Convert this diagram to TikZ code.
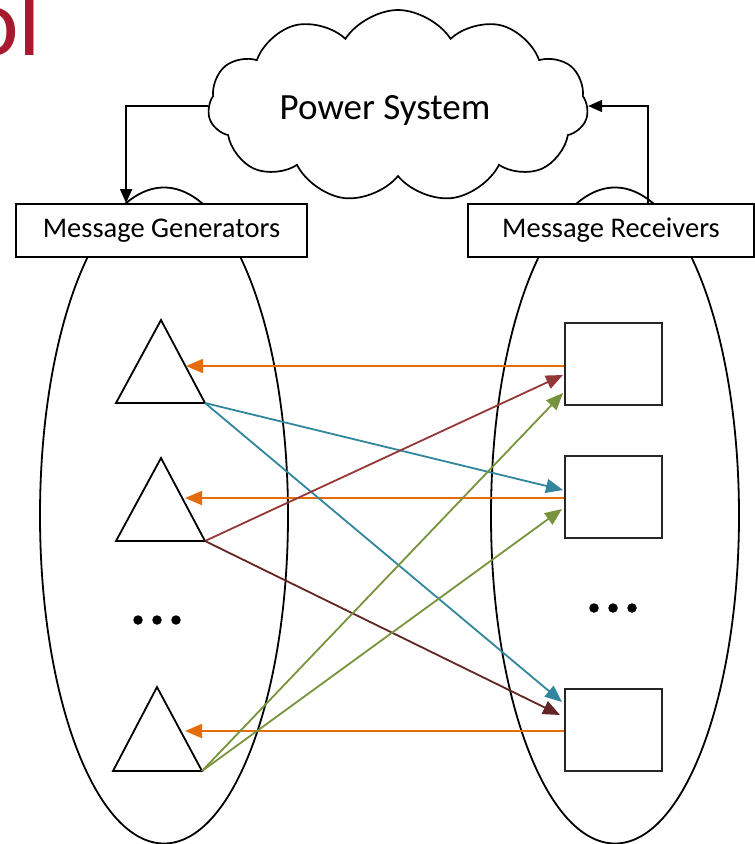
\documentclass[tikz,border=0pt]{standalone}
\usepackage{fontspec}
\setmainfont{Carlito}
\usetikzlibrary{shapes.symbols,shapes.geometric,arrows.meta}
\definecolor{crimsonT}{HTML}{A6192E}
\definecolor{arrOrange}{HTML}{E46C0A}
\definecolor{arrBlue}{HTML}{31859C}
\definecolor{arrRed}{HTML}{953735}
\definecolor{arrDark}{HTML}{632523}
\definecolor{arrGreen}{HTML}{77933C}
\begin{document}
\begin{tikzpicture}[x=1pt,y=-1pt,
  shapeline/.style={draw=black,line width=1.8pt},
  setell/.style={ellipse,draw=black,line width=1.8pt,inner sep=0pt,minimum width=248pt,minimum height=656pt},
  labbox/.style={draw=black,line width=1.8pt,fill=white,inner sep=0pt,minimum height=53pt,font=\fontsize{28.5}{30}\selectfont},
  sqbox/.style={draw=black!85,line width=2pt,inner sep=0pt,minimum width=97pt,minimum height=82pt},
  conn/.style={line width=1.7pt,-{Triangle[length=14pt,width=12pt]}},
  feed/.style={line width=1.8pt,-{Triangle[length=17pt,width=14pt]}},
  dotmark/.style={circle,fill=black,inner sep=0pt,minimum size=9.5pt}]
\useasboundingbox (0,0) rectangle (755,844);
\begin{scope}
\clip (0,0) rectangle (755,844);
\node[anchor=base west,inner sep=0pt,text=crimsonT,font=\fontsize{98}{98}\selectfont] (title) at (-33,55) {ol};
% sets
\node[setell] (genset) at (164,515.5) {};
\node[setell] (recset) at (615,515.5) {};
\end{scope}
% boxes
\node[labbox,minimum width=291pt] (gen) at (161.5,230.5) {Message Generators};
\node[labbox,minimum width=286pt] (rec) at (611,230.5) {Message Receivers};
% cloud
\node[cloud,draw=black,line width=1.7pt,fill=white,cloud puffs=11,cloud puff arc=115,aspect=2,inner sep=0pt,minimum width=380pt,minimum height=192pt] (ps) at (398,106) {};
\node[inner sep=0pt,font=\fontsize{37}{39}\selectfont] (pslabel) at (385,110) {Power System};
% feedback connectors
\draw[conn] (ps.west) -| ([xshift=111pt]gen.north west);
\draw[conn] ([xshift=181pt]rec.north west) |- (ps.east);
% triangles
\coordinate (t1a) at (161,320); \coordinate (t1l) at (116,403); \coordinate (t1r) at (205,403);
\coordinate (t2a) at (161,458); \coordinate (t2l) at (116,541); \coordinate (t2r) at (205,541);
\coordinate (t3a) at (157,687); \coordinate (t3l) at (113,771); \coordinate (t3r) at (202,771);
\draw[shapeline,line join=miter] (t1a) -- (t1r) -- (t1l) -- cycle;
\draw[shapeline,line join=miter] (t2a) -- (t2r) -- (t2l) -- cycle;
\draw[shapeline,line join=miter] (t3a) -- (t3r) -- (t3l) -- cycle;
% squares
\node[sqbox] (sq1) at (613,363.5) {};
\node[sqbox] (sq2) at (613,496.5) {};
\node[sqbox] (sq3) at (613,729.5) {};
% arrow end points
\coordinate (o1) at (186,366);
\coordinate (o2) at (185,498);
\coordinate (o3) at (185,731);
\coordinate (b1) at (563,490);
\coordinate (b2) at (562,702);
\coordinate (r1) at (563,375);
\coordinate (r2) at (560,715);
\coordinate (g1) at (563,393);
\coordinate (g2) at (562,509);
% orange
\draw[feed,arrOrange] (sq1.west |- o1) -- (o1);
\draw[feed,arrOrange] (sq2.west |- o2) -- (o2);
\draw[feed,arrOrange] (sq3.west |- o3) -- (o3);
% blue
\draw[feed,arrBlue] (t1r) -- (b1);
\draw[feed,arrBlue] (t1r) -- (b2);
% red
\draw[feed,arrRed] (t2r) -- (r1);
\draw[feed,arrDark] (t2r) -- (r2);
% green
\draw[feed,arrGreen] (t3r) -- (g1);
\draw[feed,arrGreen] (t3r) -- (g2);
% dots
\node[dotmark] (ld1) at (138,620) {};
\node[dotmark] (ld2) at (157,620) {};
\node[dotmark] (ld3) at (176,620) {};
\node[dotmark] (rd1) at (594,608) {};
\node[dotmark] (rd2) at (613,608) {};
\node[dotmark] (rd3) at (632,608) {};
\end{tikzpicture}
\end{document}
